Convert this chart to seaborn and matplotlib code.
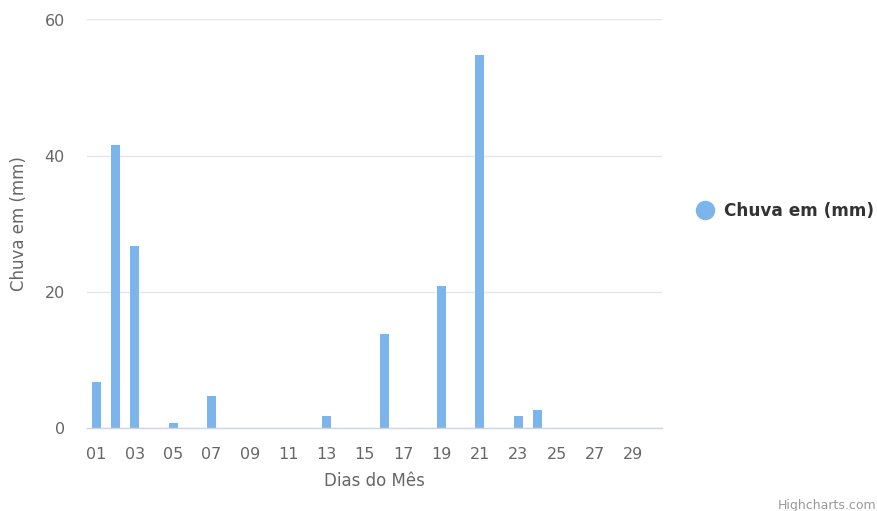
import matplotlib
matplotlib.use("Agg")
import matplotlib.pyplot as plt
import seaborn as sns
import pandas as pd
from matplotlib.lines import Line2D

days = [f"{d:02d}" for d in range(1, 31)]
rain = [6.7, 41.6, 26.8, 0, 0.7, 0, 4.7, 0, 0, 0,
        0, 0, 1.8, 0, 0, 13.8, 0, 0, 20.8, 0,
        54.8, 0, 1.8, 2.7, 0, 0, 0, 0, 0, 0]
series_name = "Chuva em (mm)"
x_title = "Dias do Mês"
y_ticks = [0, 20, 40, 60]

df = pd.DataFrame({"dia": days, "chuva": rain})

sns.set_theme(style="white")
plt.rcParams["font.family"] = ["DejaVu Sans"]

W, H = 878, 511
fig = plt.figure(figsize=(W / 100, H / 100), dpi=100)
ax = fig.add_axes([87 / W, (H - 428) / H, (662 - 87) / W, (428 - 19.5) / H])

bar_color = "#7cb5ec"
sns.barplot(data=df, x="dia", y="chuva", color=bar_color, width=0.47,
            saturation=1, linewidth=0, ax=ax)

ax.set_xlim(-0.5, len(days) - 0.5)
ax.set_ylim(0, 60)
ax.set_yticks(y_ticks)
ax.set_yticklabels([str(t) for t in y_ticks], color="#666666", fontsize=11.5)
ax.set_xticks(range(0, len(days), 2))
ax.set_xticklabels(days[::2], color="#666666", fontsize=11.5)
ax.tick_params(axis="both", length=0)
ax.tick_params(axis="y", pad=16)
ax.tick_params(axis="x", pad=14)

ax.yaxis.grid(True, color="#e6e6e6", linewidth=1)
ax.set_axisbelow(True)
for s in ["top", "right", "left"]:
    ax.spines[s].set_visible(False)
ax.spines["bottom"].set_color("#ccd6eb")
ax.spines["bottom"].set_linewidth(1)

ax.set_xlabel(x_title, color="#666666", fontsize=12, labelpad=7)
ax.set_ylabel(series_name, color="#666666", fontsize=12, labelpad=12)

handle = Line2D([], [], marker="o", linestyle="", markersize=13,
                markerfacecolor=bar_color, markeredgecolor=bar_color)
fig.legend(handles=[handle], labels=[series_name], loc="center left",
           bbox_to_anchor=(677 / W, 1 - 211 / H), frameon=False,
           handletextpad=0.35, handlelength=1.5,
           prop={"weight": "bold", "size": 12.2}, labelcolor="#333333")

fig.text(876 / W, 1 - 505 / H, "Highcharts.com", ha="right", va="center",
         color="#999999", fontsize=9)

fig.savefig("out.png", dpi=100)
